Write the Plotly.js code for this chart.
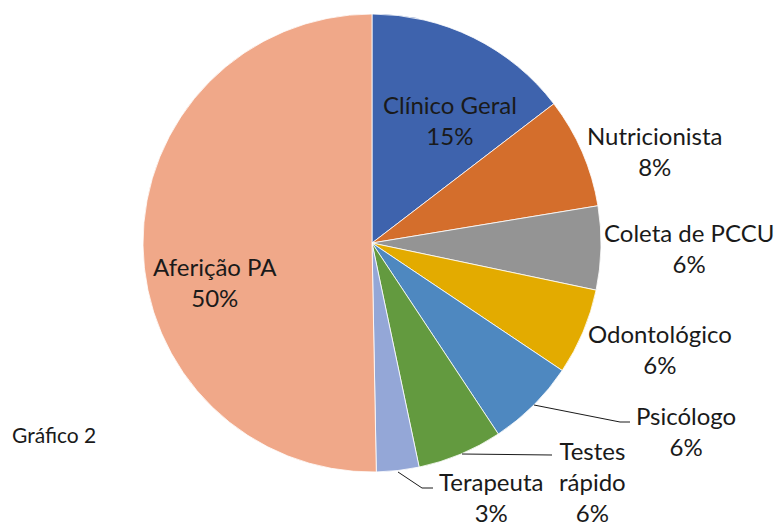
<!DOCTYPE html>
<html><head><meta charset="utf-8">
<script src="https://cdn.plot.ly/plotly-3.0.1.min.js"></script>
<style>html,body{margin:0;padding:0;background:#fff;}</style>
</head><body><div id="chart" style="width:776px;height:524px;"></div>
<script>
const categories = ["Clínico Geral","Nutricionista","Coleta de PCCU","Odontológico","Psicólogo","Testes rápido","Terapeuta","Aferição PA"];
const values = [14.6, 7.8, 5.9, 6.1, 6.3, 6.0, 3.0, 50.3];
const percentLabels = ["15%","8%","6%","6%","6%","6%","3%","50%"];
const colors = ["#3E63AD","#D46E2C","#949494","#E3AB00","#4E88C0","#639A3F","#94A7D7","#F0A889"];
const FONT = "Lato, 'Open Sans', sans-serif";

const trace = {
  type: "pie",
  labels: categories,
  values: values,
  sort: false,
  direction: "clockwise",
  rotation: 0,
  textinfo: "none",
  hoverinfo: "label+percent",
  marker: {colors: colors, line: {color: "#ffffff", width: 0.8}},
  domain: {x: [143/776, 601/776], y: [1-472/524, 1-14/524]},
  showlegend: false
};

function ann(x, y, text) {
  return {xref:"paper", yref:"paper", x: x/776, y: 1-y/524, text: text, showarrow:false,
    xanchor:"center", yanchor:"middle", align:"center", borderpad:0,
    font:{family:FONT, size:24, color:"#1a1a1a"}};
}
const labelBlocks = [
  [450, 120, categories[0] + "<br>" + percentLabels[0]],
  [655, 151, categories[1] + "<br>" + percentLabels[1]],
  [689, 248, categories[2] + "<br>" + percentLabels[2]],
  [660, 349, categories[3] + "<br>" + percentLabels[3]],
  [686, 431, categories[4] + "<br>" + percentLabels[4]],
  [592, 481, "Testes<br>rápido<br>" + percentLabels[5]],
  [491, 497, categories[6] + "<br>" + percentLabels[6]],
  [215, 282, categories[7] + "<br>" + percentLabels[7]]
];
const annotations = labelBlocks.map(b => ann(b[0], b[1], b[2]));
annotations.push({xref:"paper", yref:"paper", x: 10/776, y: 1-434/524, text:"Gráfico 2", showarrow:false,
  xanchor:"left", yanchor:"middle", font:{family:FONT, size:21, color:"#1a1a1a"}});

const leader = {color:"#1a1a1a", width:1};
const leaders = [
  [[534,405],[620,422],[630,422]],
  [[462,454],[552,455]],
  [[398,472],[422,488],[433,488]]
];
const leaderShapes = leaders.map(pts => ({
  type:"path", xref:"paper", yref:"paper",
  path: "M " + pts.map(p => (p[0]/776) + "," + (1-p[1]/524)).join(" L "),
  line: leader
}));

const layout = {
  width:776, height:524,
  margin:{l:0,r:0,t:0,b:0},
  paper_bgcolor:"#ffffff",
  font:{family:FONT},
  annotations: annotations,
  shapes: leaderShapes
};
Plotly.newPlot("chart", [trace], layout, {displayModeBar:false, staticPlot:true});
</script></body></html>
